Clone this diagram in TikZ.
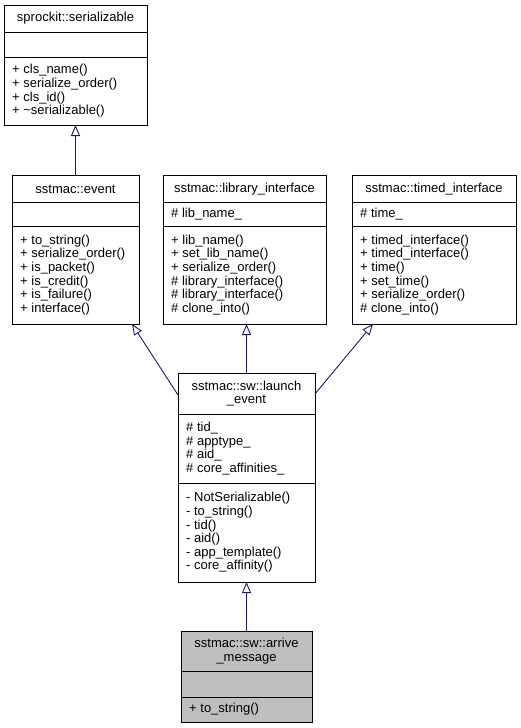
\documentclass[tikz,border=0pt]{standalone}
\usepackage{fontspec}
\setmainfont{Liberation Sans}
\usetikzlibrary{arrows.meta}
\definecolor{edgeblue}{HTML}{191970}
\definecolor{boxgray}{HTML}{BFBFBF}
\begin{document}
\begin{tikzpicture}[x=1pt,y=-1pt,
  cls/.style={draw=black, line width=0.9pt, fill=white, inner sep=0pt, outer sep=0pt},
  sep/.style={draw=black, line width=0.9pt},
  ttl/.style={font=\fontsize{13}{13.6}\selectfont, align=center, inner sep=0pt},
  mem/.style={font=\fontsize{13}{13.6}\selectfont, align=left, anchor=west, inner sep=0pt},
  inh/.style={draw=edgeblue, line width=0.9pt, -{Triangle[open, length=11pt, width=9pt, fill=white]}},
]
\useasboundingbox (0,0) rectangle (521,728);

% sprockit::serializable
\node[cls, minimum width=143pt, minimum height=120pt] (S) at (75.5,65) {};
\draw[sep] (4,32) -- (147,32);
\draw[sep] (4,57) -- (147,57);
\node[ttl] (St) at (75.5,18.5) {sprockit::serializable};
\node[mem] (Sm) at (12,91) {+ cls\_name()\\+ serialize\_order()\\+ cls\_id()\\+ \textasciitilde serializable()};

% sstmac::event
\node[cls, minimum width=127pt, minimum height=148.5pt] (E) at (75.5,249.75) {};
\draw[sep] (12,202) -- (139,202);
\draw[sep] (12,226) -- (139,226);
\node[ttl] (Et) at (75.5,189) {sstmac::event};
\node[mem] (Em) at (20,275) {+ to\_string()\\+ serialize\_order()\\+ is\_packet()\\+ is\_credit()\\+ is\_failure()\\+ interface()};

% sstmac::library_interface
\node[cls, minimum width=163pt, minimum height=148.5pt] (L) at (244.5,249.75) {};
\draw[sep] (163,202) -- (326,202);
\draw[sep] (163,226) -- (326,226);
\node[ttl] (Lt) at (244.5,189) {sstmac::library\_interface};
\node[mem] (La) at (171,214) {\# lib\_name\_};
\node[mem] (Lm) at (171,275) {+ lib\_name()\\+ set\_lib\_name()\\+ serialize\_order()\\\# library\_interface()\\\# library\_interface()\\\# clone\_into()};

% sstmac::timed_interface
\node[cls, minimum width=164pt, minimum height=148.5pt] (T) at (434,249.75) {};
\draw[sep] (352,202) -- (516,202);
\draw[sep] (352,226) -- (516,226);
\node[ttl] (Tt) at (434,189) {sstmac::timed\_interface};
\node[mem] (Ta) at (360,214) {\# time\_};
\node[mem] (Tm) at (360,275) {+ timed\_interface()\\+ timed\_interface()\\+ time()\\+ set\_time()\\+ serialize\_order()\\\# clone\_into()};

% sstmac::sw::launch_event
\node[cls, minimum width=137pt, minimum height=209pt] (LE) at (246.5,477.5) {};
\draw[sep] (178,414) -- (315,414);
\draw[sep] (178,483) -- (315,483);
\node[ttl] (LEt) at (246.5,393.5) {sstmac::sw::launch\\\_event};
\node[mem] (LEa) at (186,448.5) {\# tid\_\\\# apptype\_\\\# aid\_\\\# core\_affinities\_};
\node[mem] (LEm) at (186,532.5) {- NotSerializable()\\- to\_string()\\- tid()\\- aid()\\- app\_template()\\- core\_affinity()};

% sstmac::sw::arrive_message
\node[cls, fill=boxgray, minimum width=131pt, minimum height=91pt] (A) at (246.5,676.5) {};
\draw[sep] (181,671) -- (312,671);
\draw[sep] (181,697) -- (312,697);
\node[ttl] (At) at (246.5,651) {sstmac::sw::arrive\\\_message};
\node[mem] (Am) at (189,709.5) {+ to\_string()};

% inheritance edges
\draw[inh] (E.north) -- (S.south);
\draw[inh] (LE.north) -- (LE.north |- L.south);
\draw[inh] (A.north) -- (LE.south);
\draw[inh] ([yshift=-22pt]LE.north west) -- ([xshift=-7pt]E.south east);
\draw[inh] ([yshift=-21pt]LE.north east) -- ([xshift=21pt]T.south west);
\end{tikzpicture}
\end{document}
